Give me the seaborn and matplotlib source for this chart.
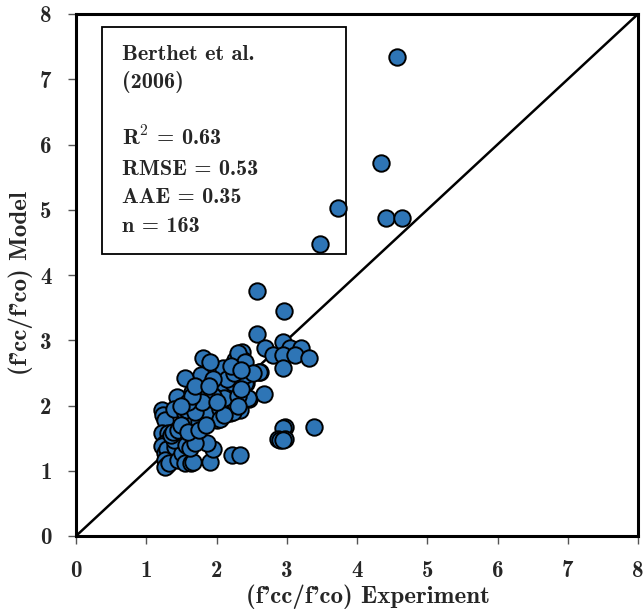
import matplotlib
matplotlib.use("Agg")
import matplotlib.pyplot as plt
import pandas as pd
import seaborn as sns

# experiment values (x) and model values (y)
exp_vals = [
    4.57, 4.34, 3.73, 4.41, 4.64, 3.47,
    2.58, 2.96, 2.58, 2.95, 2.69, 3.05, 3.20, 2.80, 2.95, 3.12, 3.32, 2.95, 2.62,
    2.36, 2.38, 2.60, 2.40, 2.42, 2.46, 2.68, 2.33, 2.97, 3.39, 2.95, 2.88, 2.97,
    2.90, 2.95, 2.22, 2.33, 1.91, 1.95, 1.86,
    1.22, 1.24, 1.27, 1.22, 1.31, 1.27, 1.25, 1.22, 1.27, 1.30, 1.27, 1.30, 1.27,
    1.33, 1.41, 1.45, 1.51, 1.55, 1.63, 1.67, 1.52, 1.55, 1.45, 1.40, 1.35, 1.38,
    1.45, 1.69, 1.60, 1.57, 1.62, 1.70, 1.45, 1.44, 1.40,
    1.55, 1.84, 2.00, 2.19, 1.58, 1.74, 1.86, 2.23, 1.84, 2.02, 2.22, 2.45, 1.65,
    2.00, 2.16, 2.09, 2.23, 2.41, 1.77, 1.78, 2.09, 2.26, 2.31, 2.41, 2.41, 2.52,
    1.81, 1.91, 1.55,
    1.65, 1.75, 1.90, 2.05, 2.10, 1.95, 2.30, 2.35, 1.70, 1.80, 1.60, 2.15, 2.25,
    1.95, 2.05, 1.50, 1.60, 1.75, 1.85, 2.10, 2.30, 2.20, 1.65, 1.50, 1.70, 2.35,
    2.00, 1.90,
]
model_vals = [
    7.34, 5.72, 5.03, 4.87, 4.87, 4.47,
    3.75, 3.45, 3.10, 2.97, 2.88, 2.88, 2.88, 2.77, 2.77, 2.78, 2.73, 2.58, 2.52,
    2.82, 2.70, 2.51, 2.47, 2.35, 2.10, 2.18, 1.93, 1.67, 1.67, 1.65, 1.49, 1.49,
    1.47, 1.47, 1.24, 1.24, 1.13, 1.33, 1.43,
    1.93, 1.85, 1.78, 1.58, 1.58, 1.43, 1.38, 1.38, 1.27, 1.33, 1.16, 1.09, 1.06,
    1.12, 1.36, 1.16, 1.27, 1.12, 1.12, 1.13, 1.55, 1.52, 1.50, 1.47, 1.55, 1.60,
    1.62, 1.58, 1.45, 1.40, 1.35, 1.42, 1.98, 2.13, 1.95,
    1.88, 1.82, 1.78, 1.88, 1.93, 1.98, 1.96, 1.90, 2.11, 2.05, 2.05, 2.11, 2.21,
    2.24, 2.21, 2.34, 2.34, 2.34, 2.36, 2.47, 2.57, 2.70, 2.80, 2.67, 2.47, 2.50,
    2.73, 2.67, 2.42,
    1.70, 1.75, 1.85, 1.95, 2.12, 2.15, 2.15, 2.25, 1.90, 2.05, 2.05, 2.40, 2.50,
    2.40, 1.80, 1.70, 1.60, 1.62, 1.70, 1.85, 2.00, 2.60, 2.15, 2.00, 2.30, 2.55,
    2.05, 2.30,
]

stats_lines = ["Berthet et al.", "(2006)", "", r"R$^{\mathbf{2}}$ = 0.63",
               "RMSE = 0.53", "AAE = 0.35", "n = 163"]

sns.set_style("white")
plt.rcParams["font.family"] = ["cmb10", "DejaVu Serif"]
plt.rcParams["mathtext.fontset"] = "cm"
plt.rcParams["axes.unicode_minus"] = False

df = pd.DataFrame({"experiment": exp_vals, "model": model_vals})

fig = plt.figure(figsize=(6.44, 6.13), dpi=100)
ax = fig.add_axes([76 / 644, 77 / 613, 562 / 644, 522 / 613])

lim = [0, 8]
ax.plot(lim, lim, color="black", lw=1.8, zorder=2)

# stats box
ax.add_patch(plt.Rectangle((0.377, 4.32), 3.46, 3.48, fill=False,
                           edgecolor="black", lw=1.3, zorder=1))

sns.scatterplot(data=df, x="experiment", y="model", ax=ax, s=140,
                color="#2E75B6", edgecolor="black", linewidth=1.4,
                zorder=3, legend=False)

y_text = 7.30
for line in stats_lines:
    ax.text(0.655, y_text, line, fontsize=16, va="baseline", ha="left")
    y_text -= 0.44

ax.set_xlim(lim)
ax.set_ylim(lim)
ax.set_xticks(range(9))
ax.set_yticks(range(9))
ax.tick_params(direction="out", length=5.5, width=1, color="#555555",
               labelsize=16.5, bottom=True, left=True)
ax.tick_params(axis="x", pad=12)
ax.tick_params(axis="y", pad=12)
for sp in ax.spines.values():
    sp.set_linewidth(2.2)
    sp.set_color("black")

ax.set_xlabel("(f'cc/f'co) Experiment", fontsize=18)
ax.set_ylabel("(f'cc/f'co) Model", fontsize=18)
ax.xaxis.set_label_coords(0.52, -0.092)
ax.yaxis.set_label_coords(-0.0765, 0.485)

fig.savefig("out.png", dpi=100)
